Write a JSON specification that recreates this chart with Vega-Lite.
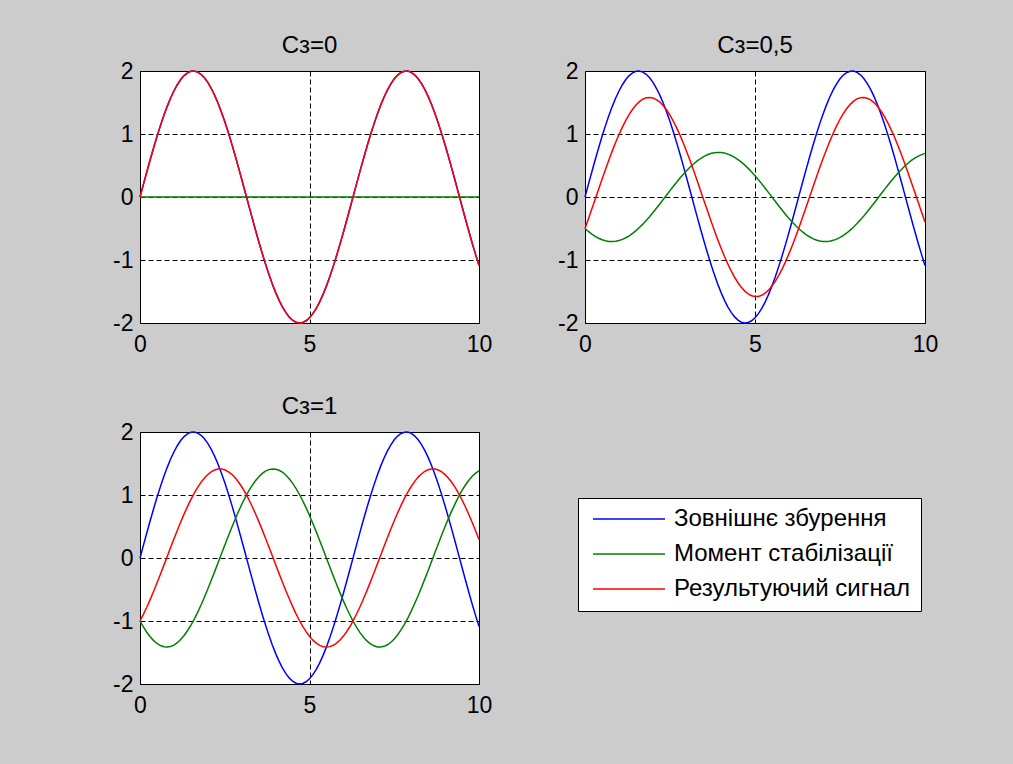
{
  "$schema": "https://vega.github.io/schema/vega-lite/v6.json",
  "background": "#cccccc",
  "padding": {"left": 112, "top": 33, "right": 75, "bottom": 50},
  "config": {
    "font": "Liberation Sans",
    "view": {"stroke": "black", "strokeWidth": 1, "fill": "white"},
    "axis": {
      "title": null,
      "domain": false,
      "ticks": false,
      "grid": true,
      "gridColor": "black",
      "gridDash": [5, 3],
      "gridOpacity": 1,
      "gridWidth": 1,
      "labelFont": "Liberation Sans",
      "labelFontSize": 23,
      "labelColor": "black",
      "labelFlush": false,
      "labelOverlap": false
    },
    "axisX": {"labelPadding": 10},
    "axisY": {"labelPadding": 7},
    "title": {"font": "Liberation Sans", "fontSize": 24, "fontWeight": "normal", "color": "black", "offset": 2, "baseline": "alphabetic"},
    "line": {"strokeWidth": 1.5, "clip": false},
    "legend": {
      "title": null,
      "symbolType": "stroke",
      "symbolSize": 5184,
      "symbolStrokeWidth": 1.5,
      "symbolOffset": 4,
      "labelFont": "Liberation Sans",
      "labelFontSize": 24,
      "labelColor": "black",
      "labelOffset": 8,
      "labelLimit": 0,
      "padding": 10,
      "rowPadding": 11,
      "clipHeight": 22,
      "fillColor": "white",
      "strokeColor": "black"
    }
  },
  "data": {
    "values": [
      {"t":0,"z":0,"m0":0,"r0":0,"m5":-0.5,"r5":-0.5,"m1":-1,"r1":-1},
      {"t":0.1,"z":0.2,"m0":0,"r0":0.2,"m5":-0.547,"r5":-0.348,"m1":-1.095,"r1":-0.895},
      {"t":0.2,"z":0.397,"m0":0,"r0":0.397,"m5":-0.589,"r5":-0.192,"m1":-1.179,"r1":-0.781},
      {"t":0.3,"z":0.591,"m0":0,"r0":0.591,"m5":-0.625,"r5":-0.034,"m1":-1.251,"r1":-0.66},
      {"t":0.4,"z":0.779,"m0":0,"r0":0.779,"m5":-0.655,"r5":0.124,"m1":-1.311,"r1":-0.532},
      {"t":0.5,"z":0.959,"m0":0,"r0":0.959,"m5":-0.679,"r5":0.28,"m1":-1.357,"r1":-0.398},
      {"t":0.6,"z":1.129,"m0":0,"r0":1.129,"m5":-0.695,"r5":0.434,"m1":-1.39,"r1":-0.261},
      {"t":0.7,"z":1.288,"m0":0,"r0":1.288,"m5":-0.705,"r5":0.584,"m1":-1.409,"r1":-0.121},
      {"t":0.8,"z":1.435,"m0":0,"r0":1.435,"m5":-0.707,"r5":0.728,"m1":-1.414,"r1":0.021},
      {"t":0.9,"z":1.567,"m0":0,"r0":1.567,"m5":-0.702,"r5":0.864,"m1":-1.405,"r1":0.162},
      {"t":1.0,"z":1.683,"m0":0,"r0":1.683,"m5":-0.691,"r5":0.992,"m1":-1.382,"r1":0.301},
      {"t":1.1,"z":1.782,"m0":0,"r0":1.782,"m5":-0.672,"r5":1.11,"m1":-1.345,"r1":0.438},
      {"t":1.2,"z":1.864,"m0":0,"r0":1.864,"m5":-0.647,"r5":1.217,"m1":-1.294,"r1":0.57},
      {"t":1.3,"z":1.927,"m0":0,"r0":1.927,"m5":-0.616,"r5":1.312,"m1":-1.231,"r1":0.696},
      {"t":1.4,"z":1.971,"m0":0,"r0":1.971,"m5":-0.578,"r5":1.393,"m1":-1.155,"r1":0.815},
      {"t":1.5,"z":1.995,"m0":0,"r0":1.995,"m5":-0.534,"r5":1.461,"m1":-1.068,"r1":0.927},
      {"t":1.6,"z":1.999,"m0":0,"r0":1.999,"m5":-0.485,"r5":1.514,"m1":-0.97,"r1":1.029},
      {"t":1.7,"z":1.983,"m0":0,"r0":1.983,"m5":-0.431,"r5":1.552,"m1":-0.863,"r1":1.121},
      {"t":1.8,"z":1.948,"m0":0,"r0":1.948,"m5":-0.373,"r5":1.574,"m1":-0.747,"r1":1.201},
      {"t":1.9,"z":1.893,"m0":0,"r0":1.893,"m5":-0.312,"r5":1.581,"m1":-0.623,"r1":1.27},
      {"t":2.0,"z":1.819,"m0":0,"r0":1.819,"m5":-0.247,"r5":1.572,"m1":-0.493,"r1":1.325},
      {"t":2.1,"z":1.726,"m0":0,"r0":1.726,"m5":-0.179,"r5":1.547,"m1":-0.358,"r1":1.368},
      {"t":2.2,"z":1.617,"m0":0,"r0":1.617,"m5":-0.11,"r5":1.507,"m1":-0.22,"r1":1.397},
      {"t":2.3,"z":1.491,"m0":0,"r0":1.491,"m5":-0.04,"r5":1.452,"m1":-0.079,"r1":1.412},
      {"t":2.4,"z":1.351,"m0":0,"r0":1.351,"m5":0.031,"r5":1.382,"m1":0.062,"r1":1.413},
      {"t":2.5,"z":1.197,"m0":0,"r0":1.197,"m5":0.101,"r5":1.298,"m1":0.203,"r1":1.4},
      {"t":2.6,"z":1.031,"m0":0,"r0":1.031,"m5":0.171,"r5":1.202,"m1":0.341,"r1":1.372},
      {"t":2.7,"z":0.855,"m0":0,"r0":0.855,"m5":0.238,"r5":1.093,"m1":0.477,"r1":1.332},
      {"t":2.8,"z":0.67,"m0":0,"r0":0.67,"m5":0.304,"r5":0.974,"m1":0.607,"r1":1.277},
      {"t":2.9,"z":0.478,"m0":0,"r0":0.478,"m5":0.366,"r5":0.844,"m1":0.732,"r1":1.21},
      {"t":3.0,"z":0.282,"m0":0,"r0":0.282,"m5":0.424,"r5":0.707,"m1":0.849,"r1":1.131},
      {"t":3.1,"z":0.083,"m0":0,"r0":0.083,"m5":0.479,"r5":0.562,"m1":0.958,"r1":1.041},
      {"t":3.2,"z":-0.117,"m0":0,"r0":-0.117,"m5":0.528,"r5":0.412,"m1":1.057,"r1":0.94},
      {"t":3.3,"z":-0.315,"m0":0,"r0":-0.315,"m5":0.573,"r5":0.257,"m1":1.145,"r1":0.83},
      {"t":3.4,"z":-0.511,"m0":0,"r0":-0.511,"m5":0.611,"r5":0.1,"m1":1.222,"r1":0.711},
      {"t":3.5,"z":-0.702,"m0":0,"r0":-0.702,"m5":0.644,"r5":-0.058,"m1":1.287,"r1":0.586},
      {"t":3.6,"z":-0.885,"m0":0,"r0":-0.885,"m5":0.67,"r5":-0.215,"m1":1.339,"r1":0.454},
      {"t":3.7,"z":-1.06,"m0":0,"r0":-1.06,"m5":0.689,"r5":-0.371,"m1":1.378,"r1":0.318},
      {"t":3.8,"z":-1.224,"m0":0,"r0":-1.224,"m5":0.701,"r5":-0.522,"m1":1.403,"r1":0.179},
      {"t":3.9,"z":-1.376,"m0":0,"r0":-1.376,"m5":0.707,"r5":-0.669,"m1":1.414,"r1":0.038},
      {"t":4.0,"z":-1.514,"m0":0,"r0":-1.514,"m5":0.705,"r5":-0.808,"m1":1.41,"r1":-0.103},
      {"t":4.1,"z":-1.637,"m0":0,"r0":-1.637,"m5":0.697,"r5":-0.94,"m1":1.393,"r1":-0.244},
      {"t":4.2,"z":-1.743,"m0":0,"r0":-1.743,"m5":0.681,"r5":-1.062,"m1":1.362,"r1":-0.381},
      {"t":4.3,"z":-1.832,"m0":0,"r0":-1.832,"m5":0.659,"r5":-1.174,"m1":1.317,"r1":-0.515},
      {"t":4.4,"z":-1.903,"m0":0,"r0":-1.903,"m5":0.629,"r5":-1.274,"m1":1.259,"r1":-0.644},
      {"t":4.5,"z":-1.955,"m0":0,"r0":-1.955,"m5":0.594,"r5":-1.361,"m1":1.188,"r1":-0.767},
      {"t":4.6,"z":-1.987,"m0":0,"r0":-1.987,"m5":0.553,"r5":-1.434,"m1":1.106,"r1":-0.882},
      {"t":4.7,"z":-2.0,"m0":0,"r0":-2.0,"m5":0.506,"r5":-1.494,"m1":1.012,"r1":-0.988},
      {"t":4.8,"z":-1.992,"m0":0,"r0":-1.992,"m5":0.454,"r5":-1.538,"m1":0.909,"r1":-1.084},
      {"t":4.9,"z":-1.965,"m0":0,"r0":-1.965,"m5":0.398,"r5":-1.567,"m1":0.796,"r1":-1.169},
      {"t":5.0,"z":-1.918,"m0":0,"r0":-1.918,"m5":0.338,"r5":-1.58,"m1":0.675,"r1":-1.243},
      {"t":5.1,"z":-1.852,"m0":0,"r0":-1.852,"m5":0.274,"r5":-1.578,"m1":0.548,"r1":-1.304},
      {"t":5.2,"z":-1.767,"m0":0,"r0":-1.767,"m5":0.208,"r5":-1.56,"m1":0.415,"r1":-1.352},
      {"t":5.3,"z":-1.665,"m0":0,"r0":-1.665,"m5":0.139,"r5":-1.526,"m1":0.278,"r1":-1.387},
      {"t":5.4,"z":-1.546,"m0":0,"r0":-1.546,"m5":0.069,"r5":-1.477,"m1":0.138,"r1":-1.408},
      {"t":5.5,"z":-1.411,"m0":0,"r0":-1.411,"m5":-0.002,"r5":-1.413,"m1":-0.003,"r1":-1.414},
      {"t":5.6,"z":-1.263,"m0":0,"r0":-1.263,"m5":-0.072,"r5":-1.335,"m1":-0.144,"r1":-1.407},
      {"t":5.7,"z":-1.101,"m0":0,"r0":-1.101,"m5":-0.142,"r5":-1.243,"m1":-0.284,"r1":-1.385},
      {"t":5.8,"z":-0.929,"m0":0,"r0":-0.929,"m5":-0.21,"r5":-1.14,"m1":-0.421,"r1":-1.35},
      {"t":5.9,"z":-0.748,"m0":0,"r0":-0.748,"m5":-0.277,"r5":-1.025,"m1":-0.554,"r1":-1.301},
      {"t":6.0,"z":-0.559,"m0":0,"r0":-0.559,"m5":-0.34,"r5":-0.899,"m1":-0.681,"r1":-1.24},
      {"t":6.1,"z":-0.364,"m0":0,"r0":-0.364,"m5":-0.401,"r5":-0.765,"m1":-0.801,"r1":-1.166},
      {"t":6.2,"z":-0.166,"m0":0,"r0":-0.166,"m5":-0.457,"r5":-0.623,"m1":-0.913,"r1":-1.08},
      {"t":6.3,"z":0.034,"m0":0,"r0":0.034,"m5":-0.508,"r5":-0.475,"m1":-1.017,"r1":-0.983},
      {"t":6.4,"z":0.233,"m0":0,"r0":0.233,"m5":-0.555,"r5":-0.322,"m1":-1.11,"r1":-0.877},
      {"t":6.5,"z":0.43,"m0":0,"r0":0.43,"m5":-0.596,"r5":-0.166,"m1":-1.192,"r1":-0.762},
      {"t":6.6,"z":0.623,"m0":0,"r0":0.623,"m5":-0.631,"r5":-0.008,"m1":-1.262,"r1":-0.639},
      {"t":6.7,"z":0.81,"m0":0,"r0":0.81,"m5":-0.66,"r5":0.15,"m1":-1.319,"r1":-0.51},
      {"t":6.8,"z":0.988,"m0":0,"r0":0.988,"m5":-0.682,"r5":0.306,"m1":-1.364,"r1":-0.375},
      {"t":6.9,"z":1.157,"m0":0,"r0":1.157,"m5":-0.697,"r5":0.46,"m1":-1.394,"r1":-0.237},
      {"t":7.0,"z":1.314,"m0":0,"r0":1.314,"m5":-0.705,"r5":0.609,"m1":-1.411,"r1":-0.097},
      {"t":7.1,"z":1.458,"m0":0,"r0":1.458,"m5":-0.707,"r5":0.751,"m1":-1.414,"r1":0.045},
      {"t":7.2,"z":1.587,"m0":0,"r0":1.587,"m5":-0.701,"r5":0.886,"m1":-1.402,"r1":0.185},
      {"t":7.3,"z":1.701,"m0":0,"r0":1.701,"m5":-0.688,"r5":1.013,"m1":-1.377,"r1":0.324},
      {"t":7.4,"z":1.797,"m0":0,"r0":1.797,"m5":-0.669,"r5":1.129,"m1":-1.337,"r1":0.46},
      {"t":7.5,"z":1.876,"m0":0,"r0":1.876,"m5":-0.642,"r5":1.234,"m1":-1.285,"r1":0.591},
      {"t":7.6,"z":1.936,"m0":0,"r0":1.936,"m5":-0.61,"r5":1.326,"m1":-1.219,"r1":0.717},
      {"t":7.7,"z":1.976,"m0":0,"r0":1.976,"m5":-0.571,"r5":1.406,"m1":-1.142,"r1":0.835},
      {"t":7.8,"z":1.997,"m0":0,"r0":1.997,"m5":-0.526,"r5":1.471,"m1":-1.053,"r1":0.945},
      {"t":7.9,"z":1.998,"m0":0,"r0":1.998,"m5":-0.476,"r5":1.521,"m1":-0.953,"r1":1.045},
      {"t":8.0,"z":1.979,"m0":0,"r0":1.979,"m5":-0.422,"r5":1.557,"m1":-0.844,"r1":1.135},
      {"t":8.1,"z":1.94,"m0":0,"r0":1.94,"m5":-0.363,"r5":1.577,"m1":-0.726,"r1":1.213},
      {"t":8.2,"z":1.881,"m0":0,"r0":1.881,"m5":-0.301,"r5":1.581,"m1":-0.602,"r1":1.28},
      {"t":8.3,"z":1.804,"m0":0,"r0":1.804,"m5":-0.235,"r5":1.569,"m1":-0.471,"r1":1.334},
      {"t":8.4,"z":1.709,"m0":0,"r0":1.709,"m5":-0.168,"r5":1.542,"m1":-0.335,"r1":1.374},
      {"t":8.5,"z":1.597,"m0":0,"r0":1.597,"m5":-0.098,"r5":1.499,"m1":-0.197,"r1":1.401},
      {"t":8.6,"z":1.469,"m0":0,"r0":1.469,"m5":-0.028,"r5":1.441,"m1":-0.056,"r1":1.413},
      {"t":8.7,"z":1.326,"m0":0,"r0":1.326,"m5":0.043,"r5":1.369,"m1":0.086,"r1":1.412},
      {"t":8.8,"z":1.17,"m0":0,"r0":1.17,"m5":0.113,"r5":1.283,"m1":0.226,"r1":1.396},
      {"t":8.9,"z":1.002,"m0":0,"r0":1.002,"m5":0.182,"r5":1.184,"m1":0.364,"r1":1.366},
      {"t":9.0,"z":0.824,"m0":0,"r0":0.824,"m5":0.25,"r5":1.074,"m1":0.499,"r1":1.323},
      {"t":9.1,"z":0.638,"m0":0,"r0":0.638,"m5":0.314,"r5":0.953,"m1":0.629,"r1":1.267},
      {"t":9.2,"z":0.446,"m0":0,"r0":0.446,"m5":0.376,"r5":0.822,"m1":0.752,"r1":1.198},
      {"t":9.3,"z":0.249,"m0":0,"r0":0.249,"m5":0.434,"r5":0.683,"m1":0.868,"r1":1.117},
      {"t":9.4,"z":0.05,"m0":0,"r0":0.05,"m5":0.487,"r5":0.537,"m1":0.975,"r1":1.025},
      {"t":9.5,"z":-0.15,"m0":0,"r0":-0.15,"m5":0.536,"r5":0.386,"m1":1.072,"r1":0.922},
      {"t":9.6,"z":-0.349,"m0":0,"r0":-0.349,"m5":0.58,"r5":0.231,"m1":1.159,"r1":0.81},
      {"t":9.7,"z":-0.544,"m0":0,"r0":-0.544,"m5":0.617,"r5":0.074,"m1":1.234,"r1":0.691},
      {"t":9.8,"z":-0.733,"m0":0,"r0":-0.733,"m5":0.648,"r5":-0.085,"m1":1.297,"r1":0.564},
      {"t":9.9,"z":-0.915,"m0":0,"r0":-0.915,"m5":0.673,"r5":-0.242,"m1":1.347,"r1":0.432},
      {"t":10,"z":-1.088,"m0":0,"r0":-1.088,"m5":0.692,"r5":-0.396,"m1":1.383,"r1":0.295}
    ]
  },
  "columns": 2,
  "bounds": "flush",
  "spacing": {"row": 109, "column": 106},
  "resolve": {"scale": {"color": "shared"}, "legend": {"color": "shared"}},
  "concat": [
    {
      "title": "Сз=0",
      "width": 339,
      "height": 252,
      "encoding": {
        "x": {"field": "t", "type": "quantitative", "scale": {"domain": [0, 10], "nice": false, "zero": false}, "axis": {"values": [0, 5, 10]}}
      },
      "layer": [
        {"mark": {"type": "line"}, "encoding": {
          "y": {"field": "z", "type": "quantitative", "scale": {"domain": [-2, 2], "nice": false, "zero": false}, "axis": {"values": [-2, -1, 0, 1, 2], "labelExpr": "'' + datum.value"}},
          "color": {"datum": "Зовнішнє збурення", "type": "nominal",
            "scale": {"domain": ["Зовнішнє збурення", "Момент стабілізації", "Результуючий сигнал"], "range": ["#0000ff", "#008000", "#ff0000"]},
            "legend": {"orient": "none", "legendX": 438, "legendY": 427}}}},
        {"mark": {"type": "line"}, "encoding": {"y": {"field": "m0", "type": "quantitative"}, "color": {"datum": "Момент стабілізації", "type": "nominal"}}},
        {"mark": {"type": "line"}, "encoding": {"y": {"field": "r0", "type": "quantitative"}, "color": {"datum": "Результуючий сигнал", "type": "nominal"}}}
      ]
    },
    {
      "title": "Сз=0,5",
      "width": 340,
      "height": 252,
      "encoding": {
        "x": {"field": "t", "type": "quantitative", "scale": {"domain": [0, 10], "nice": false, "zero": false}, "axis": {"values": [0, 5, 10]}}
      },
      "layer": [
        {"mark": {"type": "line"}, "encoding": {
          "y": {"field": "z", "type": "quantitative", "scale": {"domain": [-2, 2], "nice": false, "zero": false}, "axis": {"values": [-2, -1, 0, 1, 2], "labelExpr": "'' + datum.value"}},
          "color": {"datum": "Зовнішнє збурення", "type": "nominal"}}},
        {"mark": {"type": "line"}, "encoding": {"y": {"field": "m5", "type": "quantitative"}, "color": {"datum": "Момент стабілізації", "type": "nominal"}}},
        {"mark": {"type": "line"}, "encoding": {"y": {"field": "r5", "type": "quantitative"}, "color": {"datum": "Результуючий сигнал", "type": "nominal"}}}
      ]
    },
    {
      "title": "Сз=1",
      "width": 339,
      "height": 252,
      "encoding": {
        "x": {"field": "t", "type": "quantitative", "scale": {"domain": [0, 10], "nice": false, "zero": false}, "axis": {"values": [0, 5, 10]}}
      },
      "layer": [
        {"mark": {"type": "line"}, "encoding": {
          "y": {"field": "z", "type": "quantitative", "scale": {"domain": [-2, 2], "nice": false, "zero": false}, "axis": {"values": [-2, -1, 0, 1, 2], "labelExpr": "'' + datum.value"}},
          "color": {"datum": "Зовнішнє збурення", "type": "nominal"}}},
        {"mark": {"type": "line"}, "encoding": {"y": {"field": "m1", "type": "quantitative"}, "color": {"datum": "Момент стабілізації", "type": "nominal"}}},
        {"mark": {"type": "line"}, "encoding": {"y": {"field": "r1", "type": "quantitative"}, "color": {"datum": "Результуючий сигнал", "type": "nominal"}}}
      ]
    }
  ]
}
